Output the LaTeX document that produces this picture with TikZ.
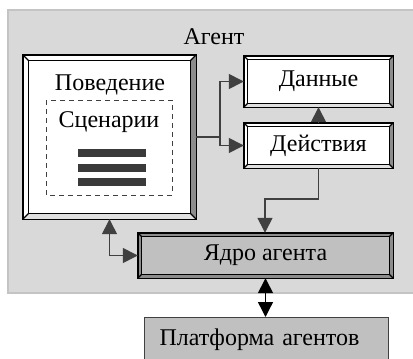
\documentclass[tikz,border=0pt]{standalone}
\usepackage{fontspec}
\setmainfont{Liberation Serif}
\usetikzlibrary{arrows.meta,backgrounds}
\definecolor{panel}{HTML}{D9D9D9}
\definecolor{panelline}{HTML}{C4C4C4}
\definecolor{ln}{HTML}{404040}
\definecolor{coregray}{HTML}{C0C0C0}
\definecolor{band}{HTML}{8C8C8C}
\newcommand\bevelframe[6]{%
  \path (#1.north west) ++(#2,-#2) coordinate (#1-a)
        (#1.north east) ++(-#2,-#2) coordinate (#1-b)
        (#1.south east) ++(-#2,#2) coordinate (#1-c)
        (#1.south west) ++(#2,#2) coordinate (#1-d);
  \fill[#4] (#1.north west) rectangle (#1.south east);
  \fill[#5] (#1.north east) -- (#1.south east) -- (#1-c) -- (#1-b) -- cycle;
  \fill[#6] (#1.south east) -- (#1.south west) -- (#1-d) -- (#1-c) -- cycle;
  \draw[black,line width=1.2pt] (#1-a) -- (#1.north west) (#1-b) -- (#1.north east)
        (#1-c) -- (#1.south east) (#1-d) -- (#1.south west);
  \draw[black,line width=1.2pt,fill=#3] (#1-a) rectangle (#1-c);
  \draw[black,line width=1.4pt] (#1.north west) rectangle (#1.south east);
}
\tikzset{
  x=1pt,y=-1pt,
  every node/.style={font=\fontsize{24}{28}\selectfont, inner sep=0pt},
  frame/.style={rectangle, draw=none},
  arr/.style={draw=ln, line width=1.4pt, -{Triangle[length=15pt,width=15pt]}},
  arrb/.style={draw=ln, line width=1.4pt, {Triangle[length=15pt,width=15pt]}-{Triangle[length=15pt,width=15pt]}},
  arrk/.style={draw=black, line width=1.4pt, {Triangle[length=15pt,width=15pt]}-{Triangle[length=15pt,width=15pt]}},
}
\begin{document}
\begin{tikzpicture}
\useasboundingbox (0,0) rectangle (413,359);
% nodes
\node[frame, minimum width=173pt, minimum height=164pt] (beh) at (109.5,137) {};
\node (behlabel) at (110,85) {Поведение};
\node (scen) at (109,122) {Сценарии};
\node[frame, minimum width=149pt, minimum height=51pt] (dan) at (318.5,81.5) {Данные};
\node[frame, minimum width=149pt, minimum height=45pt] (act) at (318.5,145.5) {Действия};
\node[frame, minimum width=255pt, minimum height=45pt] (core) at (265.5,255.5) {Ядро агента};
\node[rectangle, draw=ln, line width=1.2pt, fill=coregray, anchor=north west,
      text width=214pt, inner xsep=15pt, minimum height=44pt, align=left] (plat) at (144,317) {Платформа агентов};
\node (agent) at (214,37) {Агент};
% background layer
\begin{scope}[on background layer]
  \draw[fill=panel, draw=panelline, line width=1.5pt] (8,10) rectangle (416,293);
  \bevelframe{beh}{6pt}{white}{white}{band}{white!88!black}
  \bevelframe{dan}{4pt}{white}{white}{band}{white!88!black}
  \bevelframe{act}{4pt}{white}{white}{band}{white!88!black}
  \bevelframe{core}{4pt}{coregray}{band}{band}{band}
\end{scope}
% scenarios
\draw[draw=ln, line width=1pt, dash pattern=on 5pt off 4pt] (46,100) rectangle (172,195);
\foreach \y in {149,164,178} \fill[ln!90!black] (78,\y) rectangle (146,\y+8);
% connectors
\coordinate (j) at (220,137);
\coordinate (k) at (265,199);
\draw[draw=ln, line width=1.4pt] (beh.east |- j) -- (j);
\draw[arr] (j) |- (dan.west);
\draw[arr] (j) |- (act.west);
\draw[arr] (act.north) -- (dan.south);
\draw[arr] (act.south) |- (k) -- (core.north -| k);
\draw[arrb] (beh.south) |- (core.west);
\draw[arrk] (core.south) -- (core.south |- plat.north);
\end{tikzpicture}
\end{document}
